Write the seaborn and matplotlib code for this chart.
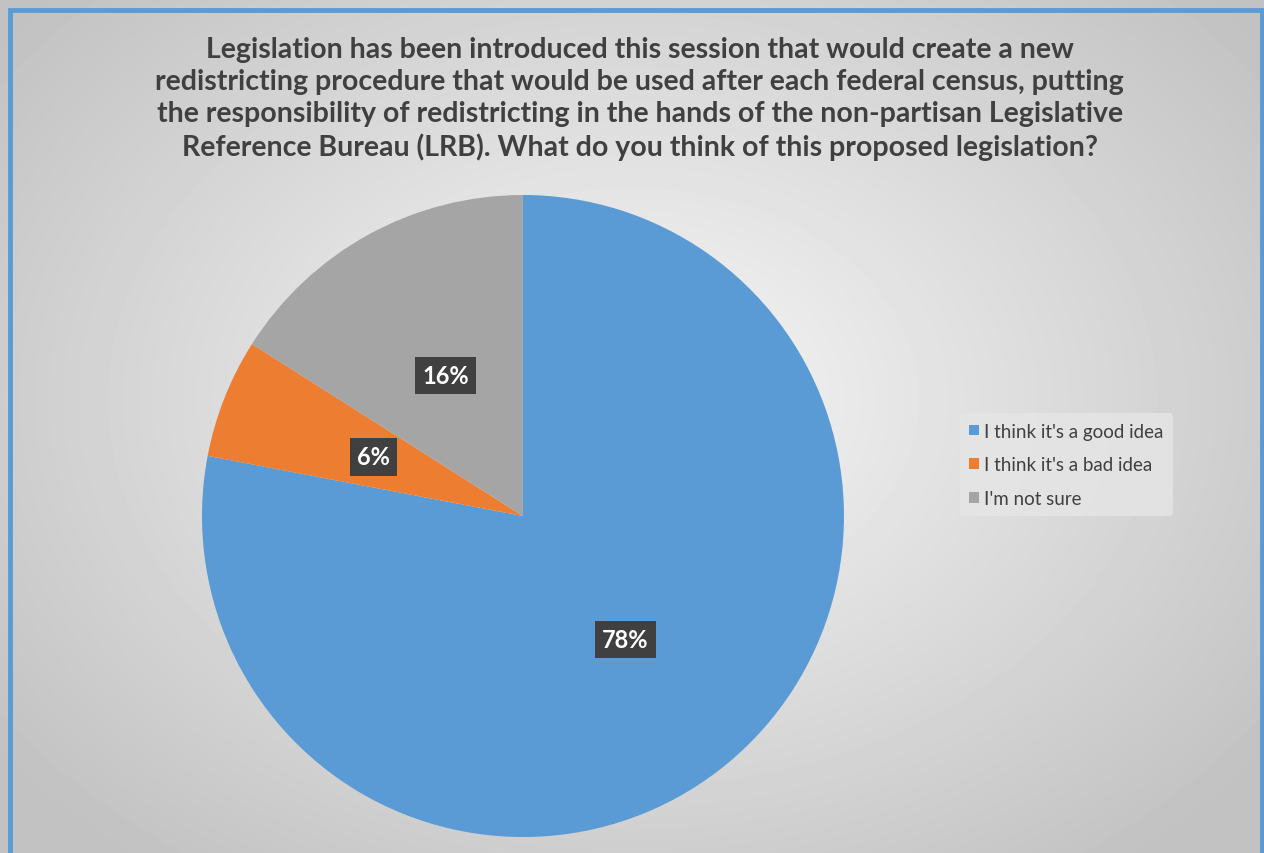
import matplotlib.pyplot as plt
import numpy as np
import seaborn as sns

# 数据
labels = ["I think it's a good idea", "I think it's a bad idea", "I'm not sure"]
values = [78, 6, 16]
colors = ["#5B9BD5", "#ED7D31", "#A5A5A5"]

title = ("Legislation has been introduced this session that would create a new\n"
         "redistricting procedure that would be used after each federal census, putting\n"
         "the responsibility of redistricting in the hands of the non-partisan Legislative\n"
         "Reference Bureau (LRB). What do you think of this proposed legislation?")


def main():
    sns.set_theme(style='white')
    plt.rcParams['font.family'] = ['Lato', 'DejaVu Sans']

    fig = plt.figure(figsize=(12.64, 8.54), dpi=100)

    # 背景: 径向渐变
    bg = fig.add_axes([0, 0, 1, 1], zorder=0)
    yy, xx = np.mgrid[0:854, 0:1264]
    d = np.sqrt(((xx - 632) / 760.0) ** 2 + ((yy - 400) / 560.0) ** 2)
    shade = np.clip(0.97 - 0.2 * d, 0.76, 0.97)
    bg.imshow(shade, cmap='gray', vmin=0, vmax=1, aspect='auto',
              extent=[0, 1264, 854, 0])
    bg.set_xlim(0, 1264)
    bg.set_ylim(854, 0)
    bg.axis('off')
    # 蓝色边框
    bg.plot([10, 10, 1262, 1262], [860, 11, 11, 860], color='#5B9BD5', lw=3.5,
            solid_joinstyle='miter')

    fig.text(0.506, 0.957, title, ha='center', va='top', fontsize=20.5,
             fontweight='bold', color='#404040', linespacing=1.29)

    ax = fig.add_axes([0.1598, 0.0187, 0.5079, 0.7518], zorder=1)
    wedges, texts, autotexts = ax.pie(
        values, colors=sns.color_palette(colors), startangle=90,
        counterclock=False, autopct='%1.0f%%', pctdistance=0.5,
        wedgeprops=dict(linewidth=0),
        textprops=dict(color='white', fontsize=17, fontweight='bold'),
    )
    for t in autotexts:
        t.set_bbox(dict(boxstyle='square,pad=0.3', fc='#404040', ec='none'))
    ax.set_aspect('auto')
    ax.set_xlim(-1, 1)
    ax.set_ylim(-1, 1)

    leg = fig.legend(wedges, labels, loc='upper left',
                     bbox_to_anchor=(0.752, 0.526), frameon=True,
                     fontsize=13.5, handlelength=0.5, handleheight=0.5,
                     handletextpad=0.3, labelspacing=0.89, borderpad=0.5,
                     labelcolor='#404040')
    leg.get_frame().set_facecolor('#e6e6e6')
    leg.get_frame().set_edgecolor('none')
    leg.get_frame().set_alpha(0.8)

    plt.savefig('out.png', dpi=100)


if __name__ == '__main__':
    main()
